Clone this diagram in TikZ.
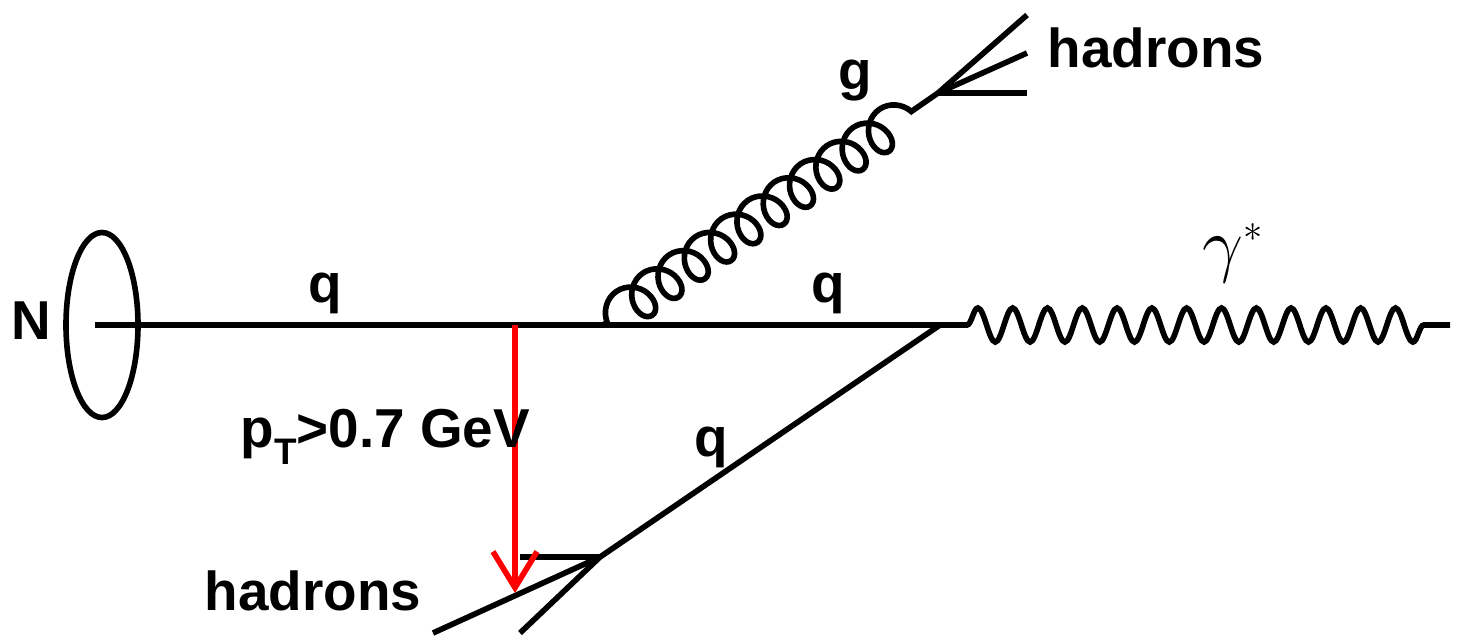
\documentclass[tikz,border=0pt]{standalone}
\usepackage{fontspec}
\setmainfont{Liberation Sans}
\usetikzlibrary{shapes.geometric,decorations.pathmorphing,arrows.meta}
\begin{document}
\begin{tikzpicture}[line width=1.6pt, font=\fontsize{15.6}{18}\selectfont\bfseries,
  lbl/.style={anchor=base, inner sep=0pt},
  gluon/.style={decorate, decoration={coil, amplitude=0.2cm, segment length=0.32cm, aspect=0.85, pre length=0.05cm, post length=0.05cm}},
  photon/.style={decorate, decoration={snake, amplitude=0.17cm, segment length=0.348cm, pre length=0.27cm, post length=0.26cm}}]
\useasboundingbox (0,0) rectangle (14.58,-6.40);
% nucleon
\node[draw, ellipse, minimum width=0.72cm, minimum height=1.85cm, inner sep=0pt] (nuc) at (1.02,-3.25) {};
\node[inner sep=0pt] (N) at (0.31,-3.21) {N};
% vertices
\coordinate (q0) at (0.95,-3.25);
\coordinate (kick) at (5.15,-3.25);
\coordinate (gv) at (6.03,-3.25);
\coordinate (v) at (9.40,-3.25);
\coordinate (pend) at (14.50,-3.25);
\coordinate (gend) at (9.38,-0.93);
\coordinate (bv) at (6.00,-5.57);
\coordinate (tip) at (5.15,-5.93);
\coordinate (th1) at (10.27,-0.15);
\coordinate (th2) at (10.27,-0.53);
\coordinate (th3) at (10.27,-0.93);
\coordinate (bh1) at (4.33,-6.33);
\coordinate (bh2) at (5.20,-6.33);
\coordinate (bh3) at (5.20,-5.57);
% lines
\draw (q0) -- (v);
\draw[gluon] (gv) -- (gend);
\draw[photon] (v) -- (pend);
\draw (v) -- (bv);
\draw (gend) -- (th1);
\draw (gend) -- (th2);
\draw (gend) -- (th3);
\draw (bv) -- (bh1);
\draw (bv) -- (bh2);
\draw (bv) -- (bh3);
\draw[red, -{Straight Barb[length=0.36cm, width=0.44cm]}] (kick) -- (tip);
% labels
\node[lbl] (q1) at (3.25,-3.02) {q};
\node[lbl] (q2) at (8.28,-3.02) {q};
\node[lbl] (q3) at (7.11,-4.56) {q};
\node[lbl] (g) at (8.55,-0.89) {g};
\node[lbl, anchor=base west] (hadt) at (10.45,-0.67) {hadrons};
\node[lbl, anchor=base west] (hadb) at (2.02,-6.10) {hadrons};
\node[lbl, anchor=base west] (pt) at (2.38,-4.47) {p\raisebox{-5pt}{\fontsize{10.5}{12}\selectfont T}>0.7 GeV};
\node[lbl, anchor=base west, font=\fontsize{21}{24}\selectfont] (gam) at (12.00,-2.68) {\(\gamma^{\scriptscriptstyle *}\)};
\end{tikzpicture}
\end{document}
